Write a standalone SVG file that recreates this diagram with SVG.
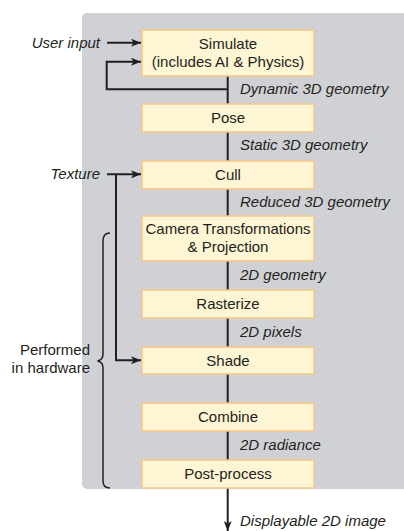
<svg xmlns="http://www.w3.org/2000/svg" width="404" height="531" viewBox="0 0 404 531">
<defs>
<style>
.box{fill:#fdf5d3;stroke:#f5c58a;stroke-width:1.5}
.bt{font-family:"Liberation Sans",Arial,sans-serif;font-size:15px;fill:#231f20;text-anchor:middle}
.lb{font-family:"Liberation Sans",Arial,sans-serif;font-size:15px;font-style:italic;fill:#231f20}
.ln{fill:none;stroke:#231f20;stroke-width:2}
.br{fill:none;stroke:#231f20;stroke-width:1.5}
</style>
<marker id="ah" viewBox="0 0 10 8" refX="10" refY="4" markerWidth="10" markerHeight="8" markerUnits="userSpaceOnUse" orient="auto">
<path d="M0,0 L10,4 L0,8 L2.5,4 Z" fill="#231f20"/>
</marker>
</defs>
<rect x="82" y="13" width="330" height="476" rx="5" fill="#d0d1d5"/>
<g id="connectors">
<path class="ln" d="M227.7,76 V104 M227.7,132 V161 M227.7,189 V216 M227.7,261 V290 M227.7,318 V347 M227.7,374 V403 M227.7,431 V460"/>
<path class="ln" d="M227.7,488 V531" marker-end="url(#ah)"/>
<path class="ln" d="M107,42.7 H141" marker-end="url(#ah)"/>
<path class="ln" d="M227.7,89.3 H106.7 V61.7 H141" marker-end="url(#ah)"/>
<path class="ln" d="M107,174.3 H141" marker-end="url(#ah)"/>
<path class="ln" d="M116,174.3 V360.3 H141" marker-end="url(#ah)"/>
<path class="br" d="M110,233 Q103,233 103,241 V354 Q103,360 97.5,361 Q103,362 103,368 V481 Q103,488 110,488"/>
</g>
<g id="simulate"><rect class="box" x="142" y="30" width="172" height="46"/><text class="bt" x="228" y="49">Simulate</text><text class="bt" x="228" y="67">(includes AI &amp; Physics)</text></g>
<g id="pose"><rect class="box" x="142" y="104" width="172" height="28"/><text class="bt" x="228" y="123">Pose</text></g>
<g id="cull"><rect class="box" x="142" y="161" width="172" height="28"/><text class="bt" x="228" y="180">Cull</text></g>
<g id="camera"><rect class="box" x="142" y="216" width="172" height="45"/><text class="bt" x="228" y="234">Camera Transformations</text><text class="bt" x="228" y="252">&amp; Projection</text></g>
<g id="rasterize"><rect class="box" x="142" y="290" width="172" height="28"/><text class="bt" x="228" y="309">Rasterize</text></g>
<g id="shade"><rect class="box" x="142" y="347" width="172" height="27"/><text class="bt" x="228" y="365.5">Shade</text></g>
<g id="combine"><rect class="box" x="142" y="403" width="172" height="28"/><text class="bt" x="228" y="422">Combine</text></g>
<g id="postprocess"><rect class="box" x="142" y="460" width="172" height="28"/><text class="bt" x="228" y="479">Post-process</text></g>
<g id="labels">
<text class="lb" x="240" y="94">Dynamic 3D geometry</text>
<text class="lb" x="240" y="150">Static 3D geometry</text>
<text class="lb" x="240" y="207">Reduced 3D geometry</text>
<text class="lb" x="240" y="280">2D geometry</text>
<text class="lb" x="240" y="337">2D pixels</text>
<text class="lb" x="240" y="450">2D radiance</text>
<text class="lb" x="240" y="526">Displayable 2D image</text>
<text class="lb" x="100" y="48" text-anchor="end">User input</text>
<text class="lb" x="100" y="179" text-anchor="end">Texture</text>
<text class="bt" x="90" y="355" style="text-anchor:end">Performed</text>
<text class="bt" x="90" y="373" style="text-anchor:end">in hardware</text>
</g>
</svg>
